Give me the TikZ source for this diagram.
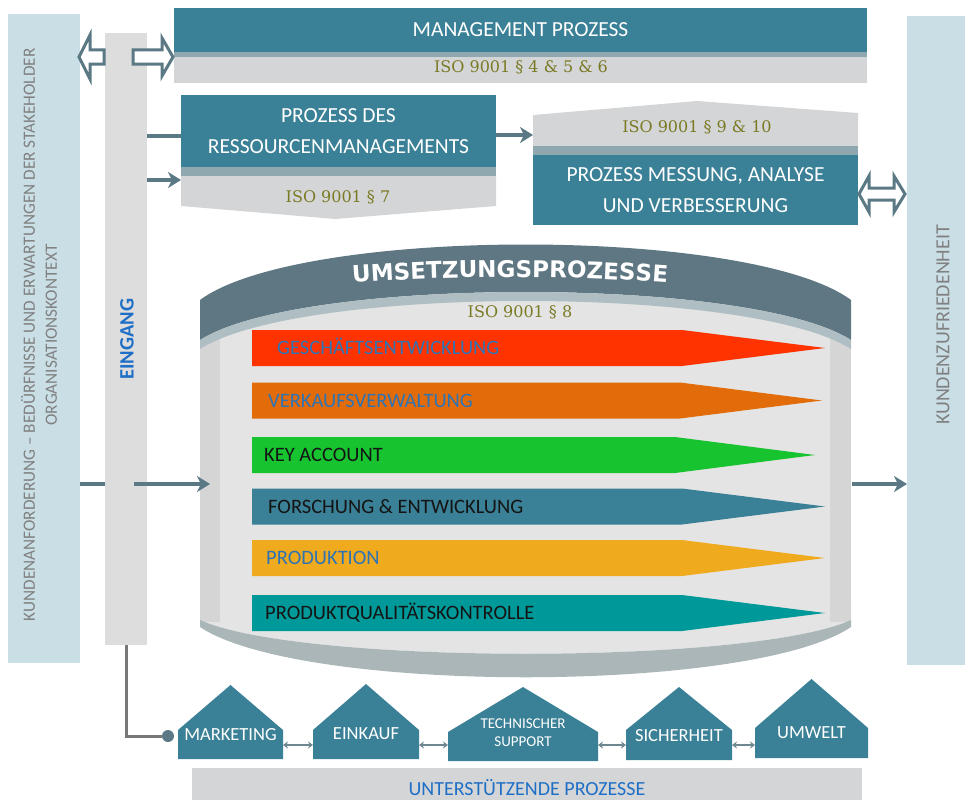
\documentclass[tikz,border=0pt]{standalone}
\usepackage{fontspec}
\setmainfont{Carlito}
\newfontfamily\isofont{DejaVu Serif}
\newfontfamily\capfont{DejaVu Sans}
\usetikzlibrary{arrows.meta,decorations.text}

\definecolor{panelblue}{RGB}{201,222,229}
\definecolor{eingray}{RGB}{221,221,221}
\definecolor{boxblue}{RGB}{58,128,150}
\definecolor{stripgray}{RGB}{143,168,176}
\definecolor{isogray}{RGB}{212,213,215}
\definecolor{isoolive}{RGB}{122,122,36}
\definecolor{arrowgray}{RGB}{91,121,132}
\definecolor{textgray}{RGB}{128,128,128}
\definecolor{eingblue}{RGB}{31,111,198}
\definecolor{capdark}{RGB}{94,119,130}
\definecolor{caplight}{RGB}{174,190,195}
\definecolor{cylbody}{RGB}{228,228,228}
\definecolor{cylside}{RGB}{213,213,213}
\definecolor{cylband}{RGB}{171,182,185}
\definecolor{pred}{RGB}{255,51,0}
\definecolor{porange}{RGB}{227,108,10}
\definecolor{pgreen}{RGB}{23,196,47}
\definecolor{pblue}{RGB}{58,128,150}
\definecolor{pamber}{RGB}{240,170,30}
\definecolor{pteal}{RGB}{0,153,153}
\definecolor{lblblue}{RGB}{46,116,181}
\definecolor{lblblack}{RGB}{20,20,20}
\definecolor{conngray}{RGB}{120,120,120}
\definecolor{linkgray}{RGB}{110,135,145}

\tikzset{
  panel/.style={fill=panelblue, inner sep=0pt, outer sep=0pt},
  bluebox/.style={fill=boxblue, text=white, inner sep=0pt, outer sep=0pt, align=center, font=\fontsize{21.5}{31}\selectfont},
  iso/.style={text=isoolive, font=\isofont\fontsize{16}{16}\selectfont},
  flow/.style={line width=3.5pt, draw=arrowgray, -{Stealth[length=13pt,width=16pt,inset=4pt]}},
  flowline/.style={line width=3.5pt, draw=arrowgray},
  hollow/.style={line width=3pt, draw=arrowgray, fill=white, line join=miter},
  lbl/.style={anchor=base west, inner sep=0pt, font=\fontsize{20.5}{20.5}\selectfont},
  link/.style={line width=1.5pt, draw=linkgray, {Stealth[length=5pt,width=7pt]}-{Stealth[length=5pt,width=7pt]}}
}

\begin{document}
\begin{tikzpicture}[x=1pt,y=-1pt]
\useasboundingbox (0,0) rectangle (973,800);

\node[panel, minimum width=72pt, minimum height=649pt] (kunde) at (44,338.5) {};
\node[rotate=90, align=center, text=textgray, font=\fontsize{17.2}{22}\selectfont] (kundetxt) at (39,335) {KUNDENANFORDERUNG – BEDÜRFNISSE UND ERWARTUNGEN DER STAKEHOLDER\\ORGANISATIONSKONTEXT};
\node[panel, minimum width=58pt, minimum height=649pt] (zuf) at (936,340.5) {};
\node[rotate=90, text=textgray, font=\fontsize{20}{20}\selectfont] (zuftxt) at (943,325) {KUNDENZUFRIEDENHEIT};
\node[fill=eingray, inner sep=0pt, outer sep=0pt, minimum width=42pt, minimum height=612pt] (eing) at (126,339) {};
\node[rotate=90, text=eingblue, font=\bfseries\fontsize{20.5}{20.5}\selectfont] (eingtxt) at (127,339) {EINGANG};

\node[bluebox, minimum width=693pt, minimum height=44pt] (mgmt) at (520.5,30) {MANAGEMENT PROZESS};
\fill[stripgray] (174,52) rectangle (867,57);
\fill[isogray] (174,57) rectangle (867,83);
\node[iso] (mgmtiso) at (521,67) {ISO 9001 § 4 \& 5 \& 6};

\node[bluebox, minimum width=315pt, minimum height=72pt] (res) at (338.5,131) {PROZESS DES\\RESSOURCENMANAGEMENTS};
\fill[stripgray] (181,167) rectangle (496,176);
\fill[isogray] (181,176) -- (496,176) -- (496,206) -- (335,219) -- (181,206) -- cycle;
\node[iso] (resiso) at (338,197) {ISO 9001 § 7};

\fill[isogray] (533,146) -- (533,115) -- (697,101) -- (858,113) -- (858,146) -- cycle;
\fill[stripgray] (533,146) rectangle (858,155);
\node[bluebox, minimum width=325pt, minimum height=70pt] (mes) at (695.5,190) {PROZESS MESSUNG, ANALYSE\\UND VERBESSERUNG};
\node[iso] (mesiso) at (697,127) {ISO 9001 § 9 \& 10};

\draw[hollow] (79,57) -- (90,35) -- (90,50) -- (104,50) -- (104,64) -- (90,64) -- (90,79) -- cycle;
\draw[hollow] (173,57) -- (162,76) -- (162,64) -- (133,64) -- (133,50) -- (162,50) -- (162,38) -- cycle;
\draw[hollow] (859,194) -- (869,176) -- (869,188) -- (894,188) -- (894,176) -- (905,194) -- (894,212) -- (894,200) -- (869,200) -- (869,212) -- cycle;

\draw[flowline] (eing.east|-0,136) -- (res.west|-0,136);
\draw[flow] (eing.east|-0,180) -- (res.west|-0,180);
\draw[flow] (res.east|-0,135) -- (mes.west|-0,135);

\fill[cylbody] (200,300) rectangle (851,622);
\fill[cylbody] (200,600) -- (200,620) .. controls (300,665) and (751,665) .. (851,620) -- (851,600) -- cycle;
\fill[cylside] (200,330) rectangle (220,622);
\fill[cylside] (830,330) rectangle (851,622);
\fill[cylband] (200,620) -- (200,627) .. controls (300,694) and (751,694) .. (851,627) -- (851,620) .. controls (751,665) and (300,665) .. (200,620) -- cycle;
\fill[capdark] (200,340) -- (200,300) .. controls (300,226) and (751,226) .. (851,300) -- (851,340) .. controls (751,276) and (300,276) .. (200,340) -- cycle;
\fill[caplight] (200,340) .. controls (300,276) and (751,276) .. (851,340) -- (851,349) .. controls (751,285) and (300,285) .. (200,349) -- cycle;
\path[decorate, decoration={text along path, text align=center, text color=white,
  text={|\capfont\bfseries\fontsize{23}{23}\selectfont|UMSETZUNGSPROZESSE}}]
  (340,284) .. controls (450,275) and (570,275) .. (680,284);
\node[iso] (cyliso) at (520,312) {ISO 9001 § 8};

\foreach \y/\c/\t/\tc/\tx/\e/\tip [count=\i] in {
  348/pred/GESCHÄFTSENTWICKLUNG/lblblue/277/682/825,
  400.5/porange/VERKAUFSVERWALTUNG/lblblue/268/680/822,
  455/pgreen/KEY ACCOUNT/lblblack/264/675/815,
  506.5/pblue/FORSCHUNG \& ENTWICKLUNG/lblblack/268/682/825,
  558/pamber/PRODUKTION/lblblue/266/682/825,
  613/pteal/PRODUKTQUALITÄTSKONTROLLE/lblblack/265/682/825} {
  \fill[\c] (252,\y-18) -- (\e,\y-18) -- (\tip,\y) -- (\e,\y+18) -- (252,\y+18) -- cycle;
  \node[lbl, text=\tc] (proc\i) at (\tx,\y+6.5) {\t};
}

\coordinate (cylW) at (210,484);
\coordinate (cylE) at (852,484);
\coordinate (eingmid) at (134,484);
\draw[flowline] (kunde.east|-cylW) -- (eing.west|-cylW);
\draw[flow] (eingmid) -- (cylW);
\draw[flow] (cylE) -- (zuf.west|-cylE);

\foreach \l/\r/\p/\ey/\b/\ty/\fs/\lab [count=\i] in {
  178/283/685/730/759/735/18.5/MARKETING,
  313/419/684/730/759/733.5/18.5/EINKAUF,
  448/598/687/732/761/733/15/{TECHNISCHER\\SUPPORT},
  626/732/687/730/760/735.5/18.5/SICHERHEIT,
  755/868/679/728/758/733/18.5/UMWELT} {
  \fill[boxblue] (\l,\b) -- (\l,\ey) -- ({(\l+\r)/2},\p) -- (\r,\ey) -- (\r,\b) -- cycle;
  \node[text=white, align=center, font=\fontsize{\fs}{18}\selectfont] (house\i) at ({(\l+\r)/2},\ty) {\lab};
  \coordinate (hw\i) at (\l,745);
  \coordinate (he\i) at (\r,745);
}
\foreach \i [evaluate=\i as \j using int(\i+1)] in {1,...,4}
  \draw[link] (he\i) -- (hw\j);

\node[circle, fill=arrowgray, inner sep=0pt, minimum size=12pt] (dot) at (168,736) {};
\draw[line width=3pt, draw=conngray] (eing.south) |- (dot);

\node[fill=isogray, inner sep=0pt, minimum width=670pt, minimum height=32pt] (unter) at (527,784) {};
\node[anchor=base, inner sep=0pt, text=eingblue, font=\fontsize{20}{20}\selectfont] (untertxt) at (527,795.5) {UNTERSTÜTZENDE PROZESSE};
\end{tikzpicture}
\end{document}
